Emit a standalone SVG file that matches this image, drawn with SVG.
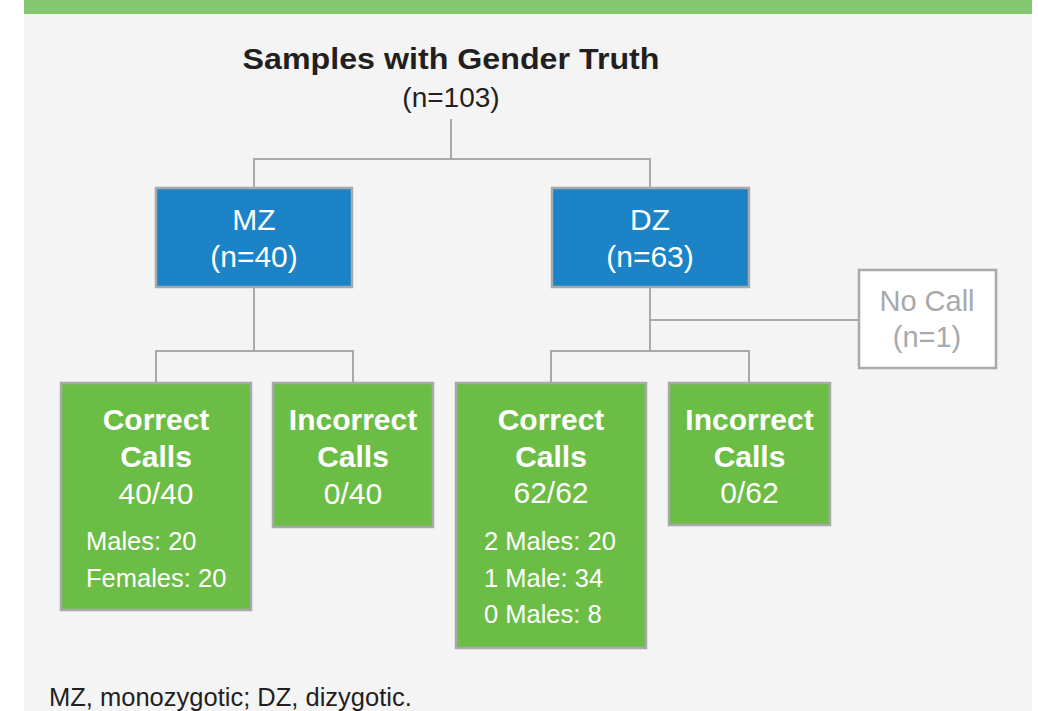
<svg xmlns="http://www.w3.org/2000/svg" width="1038" height="711" viewBox="0 0 1038 711">
<style>
text{font-family:"Liberation Sans",Arial,Helvetica,sans-serif}
.conn line{stroke:#a7a9ac;stroke-width:2;fill:none}
.box{stroke:#a7a9ac;stroke-width:2.5}
.blue{fill:#1c83c6}
.green{fill:#6cbd45}
.white{fill:#ffffff}
.tw{fill:#ffffff;text-anchor:middle;font-size:30px}
.tb{font-weight:bold}
.sub{fill:#ffffff;font-size:25.5px}
.tg{fill:#a7a9ac;text-anchor:middle;font-size:29px}
</style>
<rect x="0" y="0" width="1038" height="711" fill="#ffffff"/>
<rect x="24" y="0" width="1008" height="711" fill="#f4f4f4"/>
<rect x="24" y="0" width="1008" height="14" fill="#86c872"/>
<g id="title">
<text x="451" y="69" text-anchor="middle" font-size="30" font-weight="bold" fill="#231f20" textLength="417" lengthAdjust="spacingAndGlyphs">Samples with Gender Truth</text>
<text x="451" y="107" text-anchor="middle" font-size="28" fill="#231f20">(n=103)</text>
</g>
<g class="conn" id="connectors">
<line x1="451" y1="119" x2="451" y2="159"/>
<line x1="253" y1="159" x2="651" y2="159"/>
<line x1="254" y1="158" x2="254" y2="188"/>
<line x1="650" y1="158" x2="650" y2="188"/>
<line x1="254" y1="287" x2="254" y2="351"/>
<line x1="155" y1="351" x2="354" y2="351"/>
<line x1="156" y1="350" x2="156" y2="383"/>
<line x1="353" y1="350" x2="353" y2="383"/>
<line x1="650" y1="287" x2="650" y2="351"/>
<line x1="650" y1="320" x2="859" y2="320"/>
<line x1="550" y1="351" x2="750" y2="351"/>
<line x1="551" y1="350" x2="551" y2="383"/>
<line x1="749" y1="350" x2="749" y2="383"/>
</g>
<g id="mz">
<rect class="box blue" x="156" y="188" width="196" height="99"/>
<text class="tw" x="254" y="230">MZ</text>
<text class="tw" x="254" y="267">(n=40)</text>
</g>
<g id="dz">
<rect class="box blue" x="552" y="188" width="197" height="99"/>
<text class="tw" x="650" y="230">DZ</text>
<text class="tw" x="650" y="267">(n=63)</text>
</g>
<g id="nocall">
<rect class="box white" x="859" y="270" width="137" height="98"/>
<text class="tg" x="927" y="311">No Call</text>
<text class="tg" x="927" y="347">(n=1)</text>
</g>
<g id="mz-correct">
<rect class="box green" x="61" y="383" width="190" height="227"/>
<text class="tw tb" x="156" y="430">Correct</text>
<text class="tw tb" x="156" y="467">Calls</text>
<text class="tw" x="156" y="504">40/40</text>
<text class="sub" x="86" y="550">Males: 20</text>
<text class="sub" x="86" y="587">Females: 20</text>
</g>
<g id="mz-incorrect">
<rect class="box green" x="273" y="383" width="160" height="144"/>
<text class="tw tb" x="353" y="430">Incorrect</text>
<text class="tw tb" x="353" y="467">Calls</text>
<text class="tw" x="353" y="504">0/40</text>
</g>
<g id="dz-correct">
<rect class="box green" x="456" y="383" width="190" height="265"/>
<text class="tw tb" x="551" y="430">Correct</text>
<text class="tw tb" x="551" y="467">Calls</text>
<text class="tw" x="551" y="503">62/62</text>
<text class="sub" x="484" y="550">2 Males: 20</text>
<text class="sub" x="484" y="587">1 Male: 34</text>
<text class="sub" x="484" y="623">0 Males: 8</text>
</g>
<g id="dz-incorrect">
<rect class="box green" x="669" y="383" width="161" height="142"/>
<text class="tw tb" x="749.5" y="430">Incorrect</text>
<text class="tw tb" x="749.5" y="467">Calls</text>
<text class="tw" x="749.5" y="503">0/62</text>
</g>
<g id="footer">
<text x="49" y="706" font-size="25.5" fill="#231f20">MZ, monozygotic; DZ, dizygotic.</text>
</g>
</svg>
